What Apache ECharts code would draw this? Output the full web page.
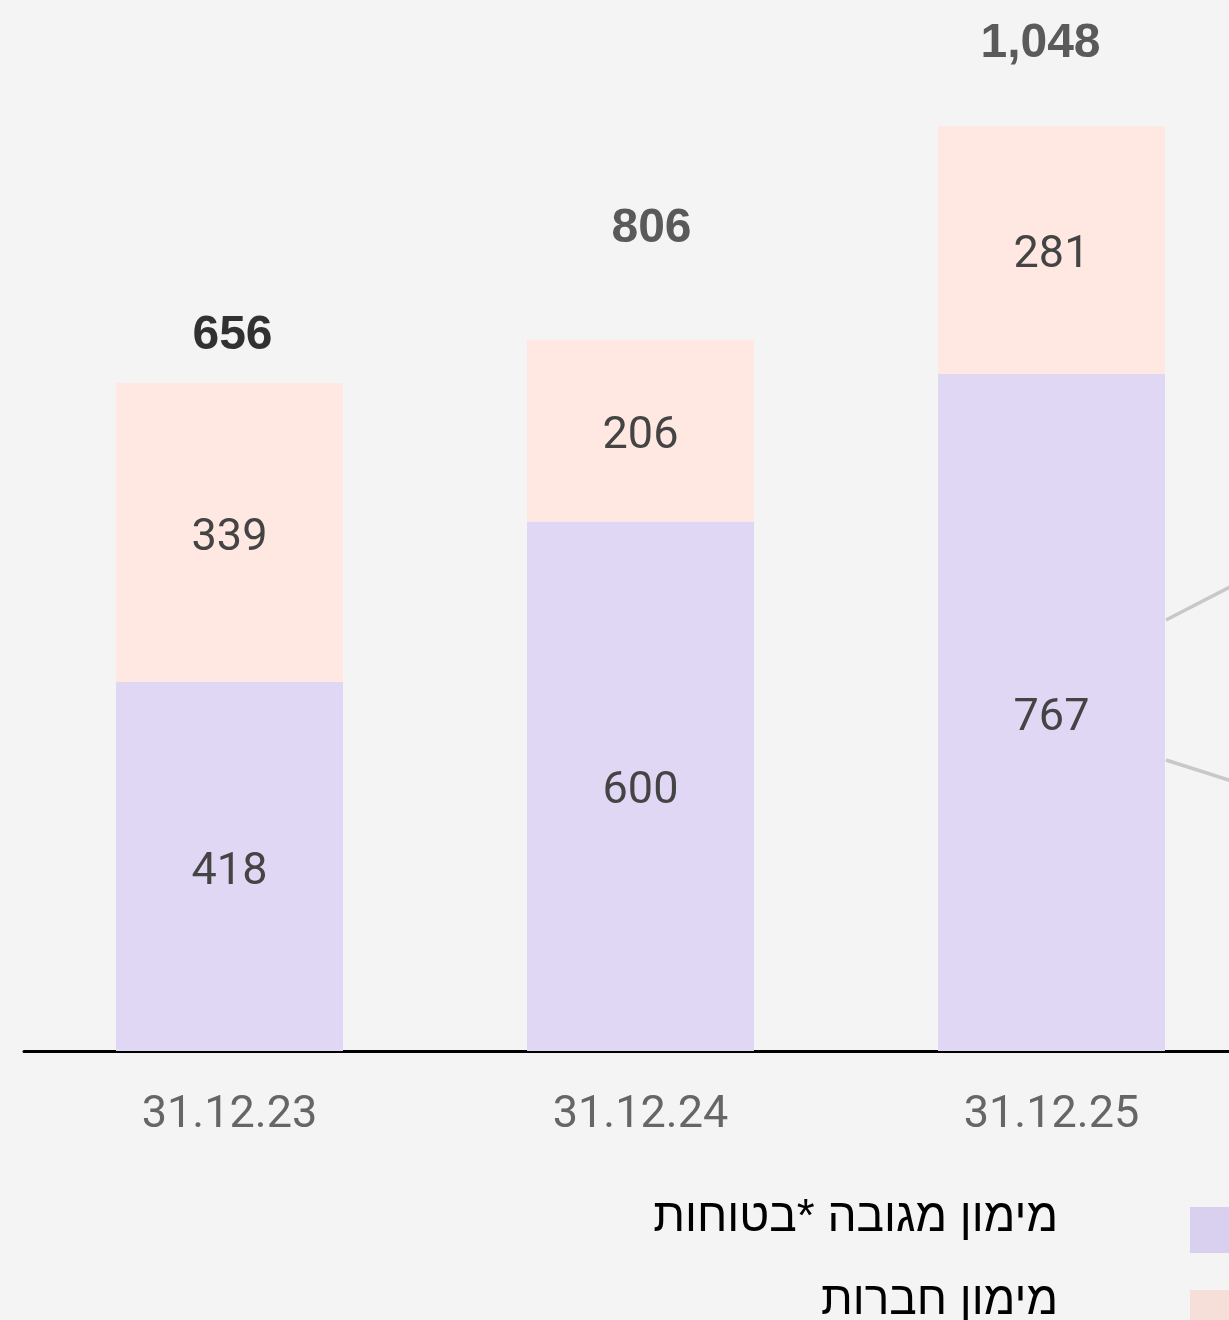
<!DOCTYPE html>
<html>
<head>
<meta charset="utf-8">
<script src="https://cdn.jsdelivr.net/npm/echarts@6/dist/echarts.min.js"></script>
<style>
  html, body { margin: 0; padding: 0; background: #f4f4f4; }
  #chart { width: 1229px; height: 1320px; }
</style>
</head>
<body>
<div id="chart"></div>
<script>
// data
const categories = ['31.12.23', '31.12.24', '31.12.25']
const securedValues = [418, 600, 767]
const corporateValues = [339, 206, 281]
const totalLabels = ['656', '806', '1,048']
const seriesNames = ['מימון מגובה *בטוחות', 'מימון חברות']

// styling (kept apart from data)
const totalOffsets = [[3, -47], [11, -111], [-11, -82]]
const totalColors = ['#000', '#333', '#333']
const legendColors = ['#d8d0ee', '#f6dfd8']
const legendTops = [1190, 1273]

const chart = echarts.init(document.getElementById('chart'))

const totals = securedValues.map((v, i) => ({
  value: v + corporateValues[i],
  label: {
    formatter: totalLabels[i],
    offset: totalOffsets[i],
    color: totalColors[i]
  }
}))

// one legend per row so the items stack like the original
const legends = seriesNames.map((name, i) => ({
  orient: 'vertical',
  right: -11,
  top: legendTops[i],
  align: 'right',
  icon: 'rect',
  itemWidth: 45,
  itemHeight: 46,
  selectedMode: false,
  formatter: n => '{t|' + n + '}',
  textStyle: {
    rich: {
      t: {
        fontFamily: 'Liberation Sans, DejaVu Sans',
        fontSize: 46,
        color: '#000',
        padding: [0, 127, 24, 0]
      }
    }
  },
  data: [{ name: name, itemStyle: { color: legendColors[i] } }]
}))

const insideLabel = {
  show: true,
  position: 'inside',
  offset: [0, 6],
  fontFamily: 'Roboto',
  fontSize: 45,
  color: '#444'
}

chart.setOption({
  backgroundColor: '#f4f4f4',
  animation: false,
  grid: {
    left: 24,
    right: -28,
    top: 82,
    bottom: 269,
    containLabel: false,
    outerBoundsMode: 'none'
  },
  legend: legends,
  xAxis: {
    type: 'category',
    data: categories,
    axisTick: { show: false },
    axisLine: { lineStyle: { color: '#000', width: 3 } },
    axisLabel: {
      margin: 42,
      fontFamily: 'Roboto',
      fontSize: 45,
      color: '#666'
    }
  },
  yAxis: {
    type: 'value',
    min: 0,
    max: 1098,
    show: false
  },
  series: [{
    name: seriesNames[0],
    type: 'bar',
    stack: 'total',
    barWidth: 227,
    itemStyle: { color: '#e0d7f5' },
    label: insideLabel,
    data: securedValues
  }, {
    name: seriesNames[1],
    type: 'bar',
    stack: 'total',
    barWidth: 227,
    itemStyle: { color: '#fee8e1' },
    label: insideLabel,
    data: corporateValues
  }, {
    name: 'total',
    type: 'scatter',
    symbolSize: 0,
    silent: true,
    z: 10,
    label: {
      show: true,
      position: 'inside',
      fontFamily: 'Liberation Sans',
      fontWeight: 'bold',
      fontSize: 48
    },
    data: totals
  }],
  graphic: [{
    type: 'line',
    shape: { x1: 1166, y1: 620, x2: 1232, y2: 586 },
    style: { stroke: '#c8c8c8', lineWidth: 3.5 },
    silent: true
  }, {
    type: 'line',
    shape: { x1: 1166, y1: 760, x2: 1232, y2: 781 },
    style: { stroke: '#c8c8c8', lineWidth: 3.5 },
    silent: true
  }]
})
</script>
</body>
</html>
